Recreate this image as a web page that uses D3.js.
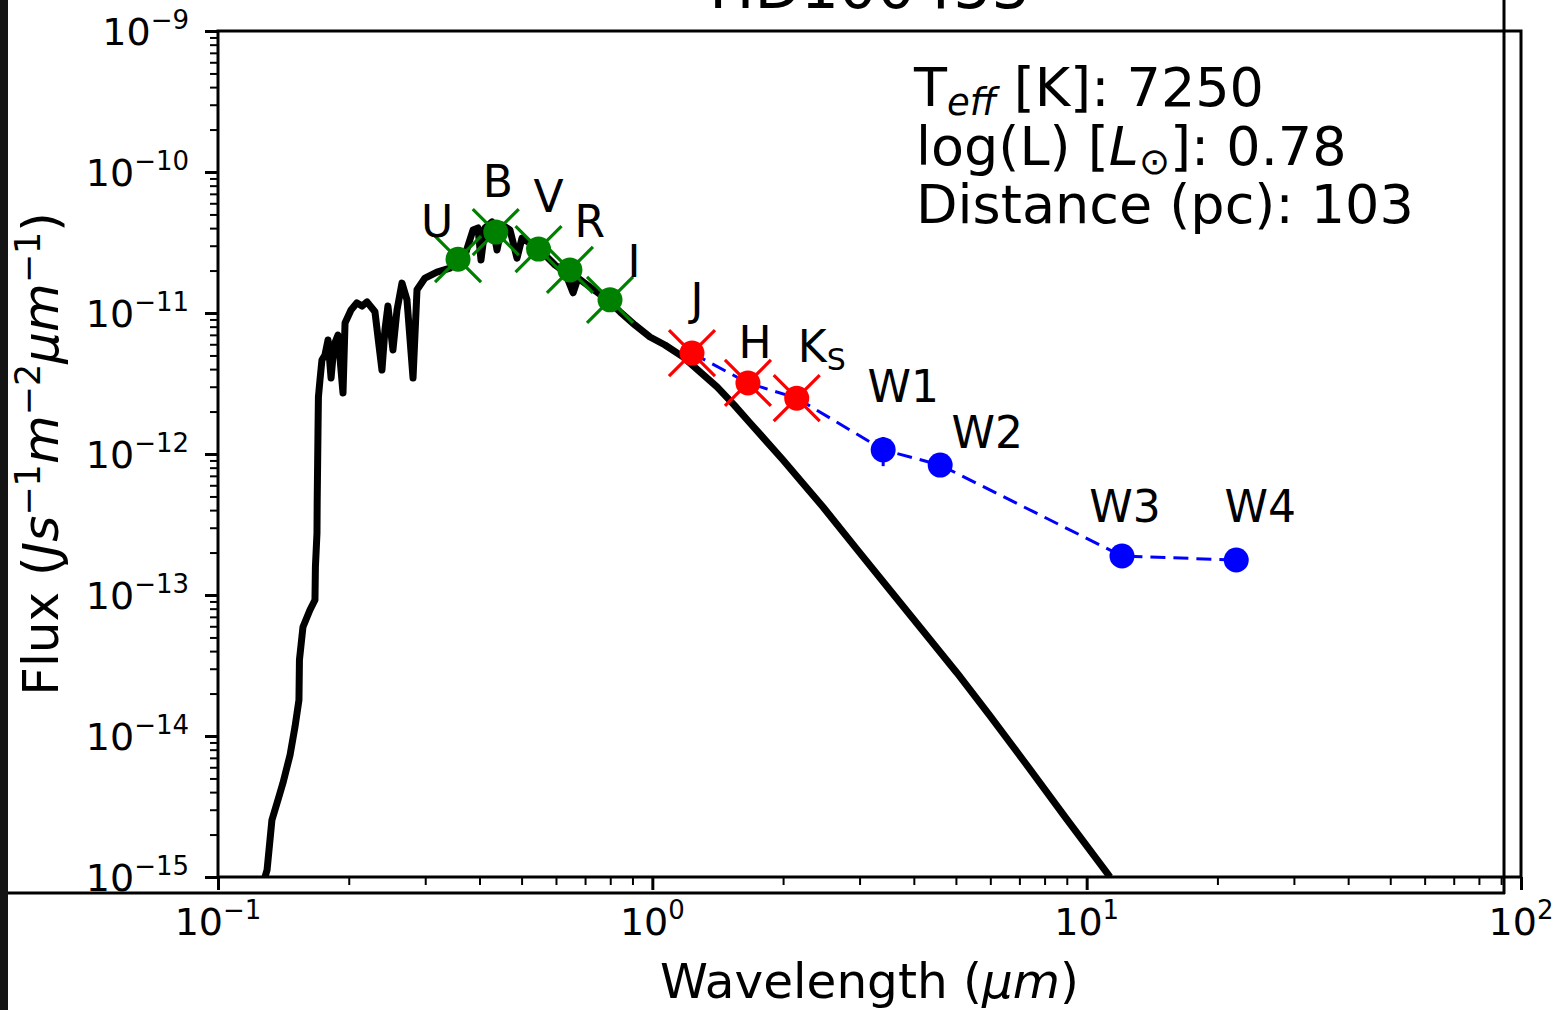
<!DOCTYPE html>
<html>
<head>
<meta charset="utf-8">
<script src="https://cdn.jsdelivr.net/npm/d3@7"></script>
<style>
  html, body { margin: 0; padding: 0; background: #fff; }
  svg { display: block; }
  text { font-family: "DejaVu Sans", sans-serif; fill: #000; }
</style>
</head>
<body>
<svg id="chart" width="1562" height="1010"></svg>
<script>
// ---------------- data ----------------
const title = "HD100453";
const bands = ["U", "B", "V", "R", "I", "J", "H", "Ks", "W1", "W2", "W3", "W4"];
const bandWave = [0.357, 0.436, 0.547, 0.646, 0.799, 1.234, 1.66, 2.15, 3.40, 4.60, 12.06, 22.1];
const bandFlux = [2.41e-11, 3.75e-11, 2.84e-11, 2.02e-11, 1.24e-11, 5.2e-12, 3.19e-12, 2.49e-12, 1.07e-12, 8.35e-13, 1.89e-13, 1.77e-13];
const bandErr  = [0, 0, 0, 0, 0, 0, 0, 0, 2.5e-13, 0, 0, 0];
const bandGroup = ["opt", "opt", "opt", "opt", "opt", "nir", "nir", "nir", "wise", "wise", "wise", "wise"];

// model photosphere spectrum (wavelength in micron, flux)
const modelWave = [0.1283, 0.1297, 0.1331, 0.1374, 0.1411, 0.1465, 0.1504, 0.1536, 0.1540, 0.1569,
  0.1628, 0.1672, 0.1676, 0.1690, 0.1692, 0.1699, 0.1703, 0.1717, 0.1735, 0.1763,
  0.1792, 0.1821, 0.1850, 0.1889, 0.1940, 0.1961, 0.2024, 0.2089, 0.2146, 0.2203,
  0.2298, 0.2347, 0.2385, 0.2423, 0.2462, 0.2528, 0.2583, 0.2652, 0.2723, 0.2812,
  0.2872, 0.2996, 0.3192, 0.3420, 0.3705, 0.3865, 0.3969, 0.4032, 0.4118, 0.4274,
  0.4389, 0.4507, 0.4702, 0.4880, 0.5011, 0.5313, 0.5661, 0.5970, 0.6294, 0.6570,
  0.6742, 0.7186, 0.7780, 0.8424, 0.9122, 0.9877, 1.0694, 1.1766, 1.2874, 1.4090,
  1.5420, 1.6786, 1.8267, 1.9994, 2.1878, 2.4715, 2.9437, 3.5262, 4.2007, 5.0292,
  5.9909, 7.1368, 8.9148, 11.137, 11.317];
const modelFlux = [1.0e-15, 1.12e-15, 2.54e-15, 3.52e-15, 4.64e-15, 7.33e-15, 1.16e-14, 1.80e-14, 3.46e-14, 5.93e-14,
  7.83e-14, 9.22e-14, 1.58e-13, 2.75e-13, 4.72e-13, 1.41e-12, 2.54e-12, 3.35e-12, 4.64e-12, 5.04e-12,
  6.44e-12, 3.46e-12, 5.93e-12, 6.98e-12, 2.71e-12, 8.49e-12, 1.05e-11, 1.18e-11, 1.12e-11, 1.20e-11,
  1.02e-11, 5.93e-12, 3.94e-12, 7.57e-12, 1.12e-11, 5.47e-12, 1.05e-11, 1.63e-11, 1.24e-11, 3.46e-12,
  1.46e-11, 1.77e-11, 1.95e-11, 2.08e-11, 2.58e-11, 3.88e-11, 4.01e-11, 2.38e-11, 4.01e-11, 4.42e-11,
  2.80e-11, 4.21e-11, 3.88e-11, 2.45e-11, 3.40e-11, 3.03e-11, 2.58e-11, 2.19e-11, 1.95e-11, 1.39e-11,
  1.77e-11, 1.53e-11, 1.28e-11, 1.02e-11, 8.22e-12, 6.76e-12, 5.93e-12, 4.88e-12, 3.82e-12, 2.99e-12,
  2.23e-12, 1.66e-12, 1.24e-12, 9.06e-13, 6.55e-13, 4.21e-13, 2.15e-13, 1.08e-13, 5.56e-14, 2.80e-14,
  1.39e-14, 6.76e-15, 2.67e-15, 1.07e-15, 1.0e-15];

const xMajorTicks = [0.1, 1, 10, 100];
const xTickExp = ["−1", "0", "1", "2"];
const yMajorTicks = [1e-15, 1e-14, 1e-13, 1e-12, 1e-11, 1e-10, 1e-9];
const yTickExp = ["−15", "−14", "−13", "−12", "−11", "−10", "−9"];

const teff = "7250";
const logL = "0.78";
const distance = "103";

// ---------------- layout ----------------
const L = 218, R = 1521, T = 31, B = 877;
const colors = { opt: "#008000", nir: "#ff0000", wise: "#0000ff" };
// label offsets from marker centre (px): [dx, dy of baseline]
const labelOffsets = {
  U: [-21, -22], B: [2, -35], V: [10, -37], R: [20, -33], I: [24, -23],
  J: [5, -38], H: [7, -25], Ks: [25, -36], W1: [20, -48], W2: [47, -17],
  W3: [3, -34], W4: [24, -38]
};

const svg = d3.select("#chart");
const x = d3.scaleLog().domain([0.1, 100]).range([L, R]);
const y = d3.scaleLog().domain([1e-15, 1e-9]).range([B, T]);

function rich(sel, parts) {
  let cur = 0;
  parts.forEach(p => {
    const ts = sel.append("tspan").text(p.t).attr("font-size", p.size);
    if (p.italic) ts.attr("font-style", "italic");
    const target = p.shift || 0;
    ts.attr("dy", target - cur);
    cur = target;
  });
}

// decorative frame artifacts from the source image
svg.append("rect").attr("x", 0).attr("y", 0).attr("width", 8).attr("height", 1010).attr("fill", "#141414");
svg.append("line").attr("x1", 8).attr("x2", 1505).attr("y1", 893).attr("y2", 893)
  .attr("stroke", "#000").attr("stroke-width", 3);
svg.append("line").attr("x1", 1504).attr("x2", 1504).attr("y1", 0).attr("y2", 894)
  .attr("stroke", "#000").attr("stroke-width", 3);

// clip
svg.append("defs").append("clipPath").attr("id", "clip")
  .append("rect").attr("x", L).attr("y", T).attr("width", R - L).attr("height", B - T);

// minor ticks
const xMinor = [];
for (let e = -1; e < 2; e++) for (let m = 2; m <= 9; m++) xMinor.push(m * Math.pow(10, e));
const yMinor = [];
for (let e = -15; e < -9; e++) for (let m = 2; m <= 9; m++) yMinor.push(m * Math.pow(10, e));

const gx = svg.append("g").attr("transform", `translate(0,${B})`);
gx.call(d3.axisBottom(x).tickValues(xMinor).tickSize(8).tickFormat(""));
gx.selectAll("line").attr("stroke-width", 2);
gx.select(".domain").remove();
const gx2 = svg.append("g").attr("transform", `translate(0,${B})`);
gx2.call(d3.axisBottom(x).tickValues(xMajorTicks).tickSize(13).tickFormat(""));
gx2.selectAll("line").attr("stroke-width", 3);
gx2.select(".domain").remove();

const gy = svg.append("g").attr("transform", `translate(${L},0)`);
gy.call(d3.axisLeft(y).tickValues(yMinor).tickSize(8).tickFormat(""));
gy.selectAll("line").attr("stroke-width", 2);
gy.select(".domain").remove();
const gy2 = svg.append("g").attr("transform", `translate(${L},0)`);
gy2.call(d3.axisLeft(y).tickValues(yMajorTicks).tickSize(13).tickFormat(""));
gy2.selectAll("line").attr("stroke-width", 3);
gy2.select(".domain").remove();

// tick labels
xMajorTicks.forEach((v, i) => {
  const t = svg.append("text").attr("x", x(v)).attr("y", 935).attr("text-anchor", "middle");
  rich(t, [{ t: "10", size: 38 }, { t: xTickExp[i], size: 26, shift: -16 }]);
});
yMajorTicks.forEach((v, i) => {
  const t = svg.append("text").attr("x", 189).attr("y", y(v) + 14).attr("text-anchor", "end");
  rich(t, [{ t: "10", size: 38 }, { t: yTickExp[i], size: 26, shift: -16 }]);
});

// model spectrum
const model = modelWave.map((w, i) => [w, modelFlux[i]]);
svg.append("path")
  .attr("clip-path", "url(#clip)")
  .attr("d", d3.line().x(d => x(d[0])).y(d => y(d[1]))(model))
  .attr("fill", "none").attr("stroke", "#000").attr("stroke-width", 7)
  .attr("stroke-linejoin", "round");

// photometry
const pts = bands.map((b, i) => ({ b, w: bandWave[i], f: bandFlux[i], e: bandErr[i], g: bandGroup[i] }));
const irPts = pts.filter(p => p.g !== "opt");
svg.append("path")
  .attr("d", d3.line().x(d => x(d.w)).y(d => y(d.f))(irPts))
  .attr("fill", "none").attr("stroke", colors.wise).attr("stroke-width", 3)
  .attr("stroke-dasharray", "15,8");

pts.filter(p => p.e > 0).forEach(p => {
  svg.append("line").attr("x1", x(p.w)).attr("x2", x(p.w))
    .attr("y1", y(p.f + p.e)).attr("y2", y(p.f - p.e))
    .attr("stroke", colors[p.g]).attr("stroke-width", 3);
});

pts.forEach(p => {
  const g = svg.append("g").attr("transform", `translate(${x(p.w)},${y(p.f)})`);
  g.append("circle").attr("r", 12.5).attr("fill", colors[p.g]);
  if (p.g !== "wise") {
    g.append("path").attr("d", "M-23,-23L23,23M-23,23L23,-23")
      .attr("stroke", colors[p.g]).attr("stroke-width", 3.2).attr("fill", "none");
  }
});

// band labels
pts.forEach(p => {
  const [dx, dy] = labelOffsets[p.b];
  const t = svg.append("text").attr("x", x(p.w) + dx).attr("y", y(p.f) + dy)
    .attr("text-anchor", "middle").attr("font-size", 44);
  if (p.b === "Ks") {
    rich(t, [{ t: "K", size: 44 }, { t: "S", size: 30, shift: 8 }]);
  } else {
    t.text(p.b);
  }
});

// spines
svg.append("rect").attr("x", L).attr("y", T).attr("width", R - L).attr("height", B - T)
  .attr("fill", "none").attr("stroke", "#000").attr("stroke-width", 3);

// title (cut off at top)
svg.append("text").attr("x", (L + R) / 2).attr("y", 8).attr("text-anchor", "middle")
  .attr("font-size", 60).text(title);

// info text
const t1 = svg.append("text").attr("x", 914).attr("y", 106);
rich(t1, [{ t: "T", size: 54 }, { t: "eff", size: 37, italic: true, shift: 9 }, { t: " [K]: " + teff, size: 54, shift: 0 }]);
const t2 = svg.append("text").attr("x", 916).attr("y", 165);
rich(t2, [{ t: "log(L) [", size: 54 }, { t: "L", size: 54, italic: true }, { t: "⊙", size: 37, shift: 9 }, { t: "]: " + logL, size: 54, shift: 0 }]);
svg.append("text").attr("x", 916).attr("y", 223).attr("font-size", 54)
  .text("Distance (pc): " + distance);

// axis labels
const xl = svg.append("text").attr("x", (L + R) / 2).attr("y", 998).attr("text-anchor", "middle");
rich(xl, [{ t: "Wavelength (", size: 48.5 }, { t: "μm", size: 48.5, italic: true }, { t: ")", size: 48.5 }]);

const yl = svg.append("text").attr("transform", `translate(58,${(T + B) / 2}) rotate(-90)`)
  .attr("text-anchor", "middle");
rich(yl, [
  { t: "Flux (", size: 50 },
  { t: "Js", size: 50, italic: true },
  { t: "−1", size: 35, shift: -18 },
  { t: "m", size: 50, italic: true, shift: 0 },
  { t: "−2", size: 35, shift: -18 },
  { t: "μm", size: 50, italic: true, shift: 0 },
  { t: "−1", size: 35, shift: -18 },
  { t: ")", size: 50, shift: 0 }
]);
</script>
</body>
</html>
